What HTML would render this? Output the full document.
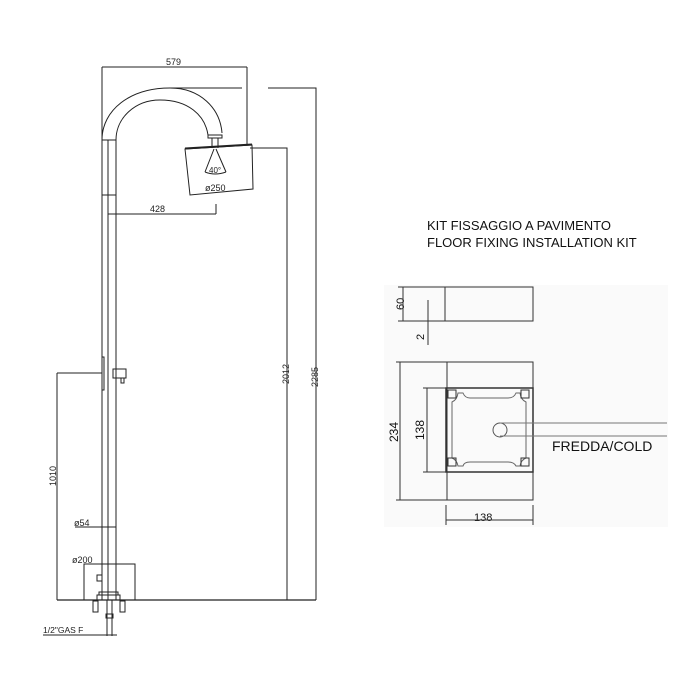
<!DOCTYPE html>
<html><head><style>body{margin:0;background:#fff}svg{display:block}</style></head><body>
<svg width="700" height="700" viewBox="0 0 700 700" xmlns="http://www.w3.org/2000/svg" font-family="Liberation Sans, sans-serif">
<rect x="384" y="285" width="284" height="242" fill="#fafafa"/>
<g stroke="#222" fill="none" stroke-width="1">
<path d="M102 67H247M102 67V140M247 67V145"/>
<path d="M170 88H242"/>
<path d="M268 88H316V600"/>
<path d="M250 148H287V600"/>
<path d="M102 140C102 110 130 88 170 88C200 88 220 108 222 133"/>
<path d="M116 140C116 118 135 100 160 100C188 100 205 115 208 135"/>
<path d="M208 135H222V138H208Z"/>
<path d="M212 138V148M218 138V148"/>
<path d="M185 149L252 145L253 189L190 195Z"/>
<path d="M185 148.5L252 144.5" stroke-width="2"/>
<path d="M214 149L205 172M216 149L226 172M205 172Q215 176 226 172"/>
<path d="M108 214H216M216 204V214"/>
<path d="M102 140V600M108 140V600M116 140V600M102 140H116M102 195H116"/>
<path d="M57 373H102M57 373V600"/>
<rect x="102" y="357" width="2" height="33"/>
<path d="M113 369H126V378H113Z M121 378V383H124V378"/>
<path d="M57 600H316" stroke-width="1.2"/>
<path d="M75 527H116M85 564H135"/>
<rect x="84" y="564" width="51" height="36"/>
<path d="M97 600V595H120V600M99 595V592H118V595"/>
<rect x="93" y="601" width="5" height="11"/><rect x="120" y="601" width="5" height="11"/>
<path d="M107 600V636M112 600V636M106 614H113V618H106Z"/>
<path d="M43 635H117"/>
<rect x="97" y="575" width="5" height="6"/>
</g>
<g font-size="9" fill="#222">
<text x="166" y="65">579</text>
<text x="209" y="173" font-size="8">40°</text>
<text x="205" y="191">ø250</text>
<text x="150" y="212">428</text>
<text x="74" y="526">ø54</text>
<text x="72" y="563">ø200</text>
<text x="43" y="633" font-size="8.5">1/2"GAS  F</text>
<text transform="translate(56,486) rotate(-90)">1010</text>
<text transform="translate(289,384) rotate(-90)">2012</text>
<text transform="translate(318,387) rotate(-90)">2285</text>
</g>
<g font-size="13" fill="#111">
<text x="427" y="230">KIT FISSAGGIO A PAVIMENTO</text>
<text x="427" y="247">FLOOR FIXING INSTALLATION KIT</text>
<text x="552" y="451" font-size="14">FREDDA/COLD</text>
<text x="474" y="521" font-size="11">138</text>
<text transform="translate(404,310) rotate(-90)" font-size="11">60</text>
<text transform="translate(424,340) rotate(-90)" font-size="11">2</text>
<text transform="translate(398,442) rotate(-90)" font-size="12">234</text>
<text transform="translate(424,440) rotate(-90)" font-size="12">138</text>
</g>
<g stroke="#333" fill="none" stroke-width="1">
<rect x="445" y="287" width="88" height="34"/>
<path d="M403 287V321M398 287H445M398 321H445M428 300V345"/>
<rect x="447" y="362" width="86" height="138"/>
<rect x="446" y="388" width="87" height="84" stroke-width="1.5"/>
<path d="M458 393H463Q465 398 470 398H508Q514 398 516 393H520Q521 400 526 402V458Q521 460 520 466H516Q514 462 508 462H470Q464 462 463 466H458Q457 460 452 458V402Q457 400 458 393Z" stroke="#666"/>
<rect x="448" y="390" width="8" height="8"/><rect x="521" y="390" width="8" height="8"/>
<rect x="448" y="458" width="8" height="8"/><rect x="521" y="458" width="8" height="8"/>
<circle cx="500" cy="430" r="7" stroke="#555"/>
<path d="M500 423H667M500 436H667" stroke="#777"/>
<path d="M400 362V500M396 362H447M396 500H447M427 388V472M423 388H446M423 472H446M446 520H533M446 505V525M533 505V525"/>
</g>
</svg>
</body></html>
